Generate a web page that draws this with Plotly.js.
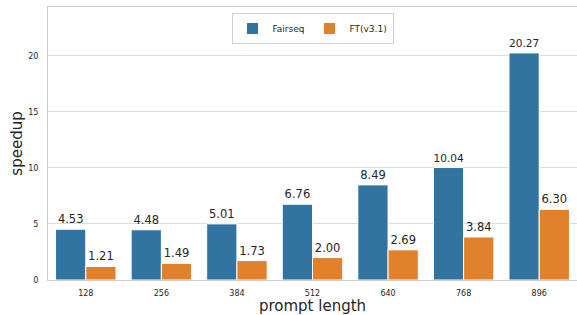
<!DOCTYPE html>
<html>
<head>
<meta charset="utf-8">
<script src="https://cdn.plot.ly/plotly-3.0.1.min.js"></script>
<style>html,body{margin:0;padding:0;background:#fff;}</style>
</head>
<body>
<div id="chart" style="width:577px;height:315px;"></div>
<script>
const categories = ["128", "256", "384", "512", "640", "768", "896"];
const fairseq = [4.53, 4.48, 5.01, 6.76, 8.49, 10.04, 20.27];
const ft = [1.21, 1.49, 1.73, 2.00, 2.69, 3.84, 6.30];
const seriesNames = ["Fairseq", "FT(v3.1)"];

const font = "DejaVu Sans, sans-serif";
const mk = (name, y, color) => ({
  type: "bar", name: name, x: categories, y: y,
  marker: {color: color, line: {color: "#ffffff", width: 1}},
  texttemplate: "%{y:.2f}", textposition: "outside", cliponaxis: false,
  textfont: {family: font, size: 11.5, color: "#262626"},
  hoverinfo: "none"
});
const data = [mk(seriesNames[0], fairseq, "#3274a1"), mk(seriesNames[1], ft, "#e1812c")];
const layout = {
  width: 577, height: 315,
  margin: {l: 48, r: 0, t: 7, b: 35},
  paper_bgcolor: "#ffffff", plot_bgcolor: "#ffffff",
  font: {family: font, color: "#262626"},
  barmode: "group", bargap: 0.2, bargroupgap: 0,
  showlegend: true,
  legend: {orientation: "h", x: 0.5, xanchor: "center", y: 0.978, yanchor: "top",
    bordercolor: "#d0d0d0", borderwidth: 1, bgcolor: "#ffffff",
    font: {family: font, size: 9, color: "#262626"}, itemwidth: 30, traceorder: "normal"},
  xaxis: {type: "category", range: [-0.5, 6.5], showgrid: false, zeroline: false,
    showline: true, linecolor: "#cccccc", linewidth: 1, mirror: true,
    ticks: "", ticklabelstandoff: 5,
    tickfont: {family: font, size: 8, color: "#262626"},
    title: {text: "prompt length", font: {family: font, size: 15, color: "#262626"}, standoff: 5}},
  yaxis: {range: [0, 24.37], tickvals: [0, 5, 10, 15, 20], showgrid: true, gridcolor: "#dcdcdc",
    gridwidth: 1, zeroline: false, showline: true, linecolor: "#cccccc", linewidth: 1, mirror: true,
    ticks: "", ticklabelstandoff: 7,
    tickfont: {family: font, size: 8, color: "#262626"},
    title: {text: "speedup", font: {family: font, size: 15, color: "#262626"}, standoff: 1}}
};
Plotly.newPlot("chart", data, layout, {displayModeBar: false, staticPlot: true});
</script>
</body>
</html>
